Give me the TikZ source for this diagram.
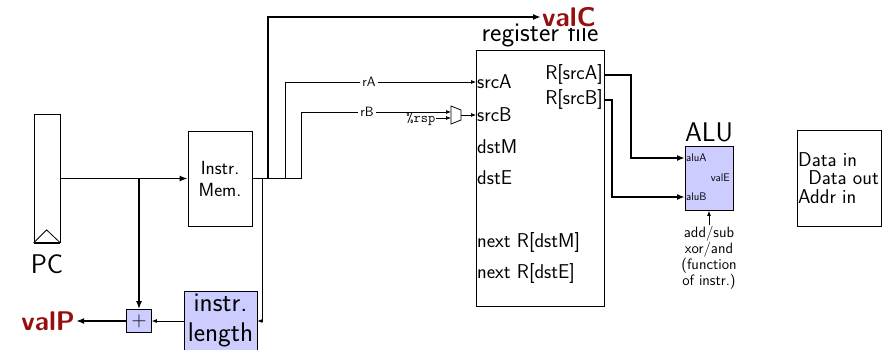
\documentclass[tikz,border=0pt]{standalone}
\usepackage{tikz}
\usetikzlibrary{arrows.meta,positioning,calc}
\definecolor{valred}{RGB}{150,15,15}
\definecolor{unitblue}{RGB}{204,204,255}

\begin{document}
\begin{tikzpicture}[
      x=1pt,y=-1pt,
      blk/.style={draw,line width=0.8pt,inner sep=0pt,align=center},
      unit/.style={blk,fill=unitblue},
      big/.style={font=\sffamily\fontsize{27}{30}\selectfont,inner sep=0pt,align=center},
      port/.style={font=\sffamily\fontsize{20}{22}\selectfont,inner sep=1pt},
      tiny/.style={font=\sffamily\fontsize{11}{12}\selectfont,inner sep=1pt},
      lbl/.style={font=\sffamily\fontsize{13.5}{14}\selectfont,fill=white,inner sep=2pt},
      sig/.style={font=\sffamily\bfseries\fontsize{27}{29}\selectfont,text=valred,inner sep=1pt},
      wire/.style={line width=0.7pt,-{Latex[length=5pt,width=4pt]}},
      bus/.style={line width=1.8pt,-{Latex[length=8pt,width=6pt]}}
    ]
    \useasboundingbox (0,0) rectangle (892,350);
    % fetch
    \node[blk,minimum width=26pt,minimum height=128pt] (pc) at (47,178.5) {};
    \draw[line width=0.8pt] (pc.south west) -- ++(13,-13) -- (pc.south east);
    \draw[line width=1.6pt] (pc.south west) -- (pc.south east);
    \node[big,below=12pt of pc] (pclbl) {PC};
    \node[blk,minimum width=64pt,minimum height=95pt,font=\sffamily\fontsize{19}{22}\selectfont] (imem) at (220,178.5) {Instr.\\Mem.};
    \node[unit,minimum width=25pt,minimum height=23pt,font=\fontsize{22}{22}\selectfont] (plus) at (139,321) {$+$};
    \node[unit,big,minimum width=73pt,minimum height=60pt] (ilen) at (220.5,321) {instr.\\length};
    \node[sig,left=50pt of plus] (valP) {valP};
    \draw[bus] (pc.east) -- (imem.west);
    \draw[bus] (plus.north |- pc.east) -- (plus.north);
    \draw[wire] (ilen.west) -- (plus.east);
    \draw[bus] (plus.west) -- (valP.east);
    % register file
    \node[blk,minimum width=128pt,minimum height=256pt] (rf) at (540,178) {};
    \node[big,above=2pt of rf] (rflbl) {register file};
    \node[port,anchor=west] (srcA) at (476,82) {srcA};
    \node[port,anchor=west] (srcB) at (476,115) {srcB};
    \node[port,anchor=west] (dstM) at (476,147) {dstM};
    \node[port,anchor=west] (dstE) at (476,178) {dstE};
    \node[port,anchor=west] (nxtM) at (476,242) {next R[dstM]};
    \node[port,anchor=west] (nxtE) at (476,273) {next R[dstE]};
    \node[port,anchor=east] (RsrcA) at (604,75) {R[srcA]};
    \node[port,anchor=east] (RsrcB) at (604,100) {R[srcB]};
    \node[sig,anchor=west,fill=white] (valC) at (541,17) {valC};
    % instruction fields
    \coordinate (imout) at (268,178.5);
    \coordinate (lentap) at (262,178.5);
    \coordinate (mux) at (456,115);
    \coordinate (muxA) at (451,112);
    \coordinate (muxB) at (451,118);
    \coordinate (muxO) at (461,115);
    \draw[line width=0.8pt] (mux) ++(-5,-9) -- ++(10,4) -- ++(0,10) -- ++(-10,4) -- cycle;
    \node[font=\ttfamily\fontsize{14}{15}\selectfont,anchor=east,inner sep=0.5pt] (rsp) at (436,119.5) {\%rsp};
    \draw[line width=1.8pt] (imem.east) -- (imout);
    \draw[bus] (imout) |- (valC.west);
    \draw[wire] (imout) -- ++(17,0) |- node[lbl,pos=0.72] {rA} (srcA.west);
    \draw[wire] (imout) -- ++(33,0) |- node[lbl,pos=0.72] {rB} (muxA);
    \draw[wire] (rsp.east |- muxB) -- (muxB);
    \draw[wire] (muxO) -- (srcB.west);
    \draw[wire] (lentap) |- (ilen.east);
    % execute
    \node[unit,minimum width=48pt,minimum height=64pt] (alu) at (709,178.5) {};
    \node[big,above=4pt of alu] (alulbl) {ALU};
    \node[tiny,anchor=west] (aluA) at (685,158) {aluA};
    \node[tiny,anchor=east] (valE) at (731,178) {valE};
    \node[tiny,anchor=west] (aluB) at (685,197) {aluB};
    \node[font=\sffamily\fontsize{15}{14.7}\selectfont,align=center,inner sep=1pt,below=14pt of alu] (fn) {add/sub\\xor/and\\(function\\of instr.)};
    \draw[bus] (RsrcA.east) -- ++(27,0) |- (aluA.west);
    \draw[bus] (RsrcB.east) -- ++(8,0) |- (aluB.west);
    \draw[wire] (fn.north) -- (alu.south);
    % memory
    \node[blk,minimum width=84pt,minimum height=96pt] (dmem) at (839,178) {};
    \node[port,anchor=west] (din) at (797,160) {Data in};
    \node[port,anchor=east] (dout) at (880,178) {Data out};
    \node[port,anchor=west] (addr) at (797,197) {Addr in};
  \end{tikzpicture}
\end{document}
